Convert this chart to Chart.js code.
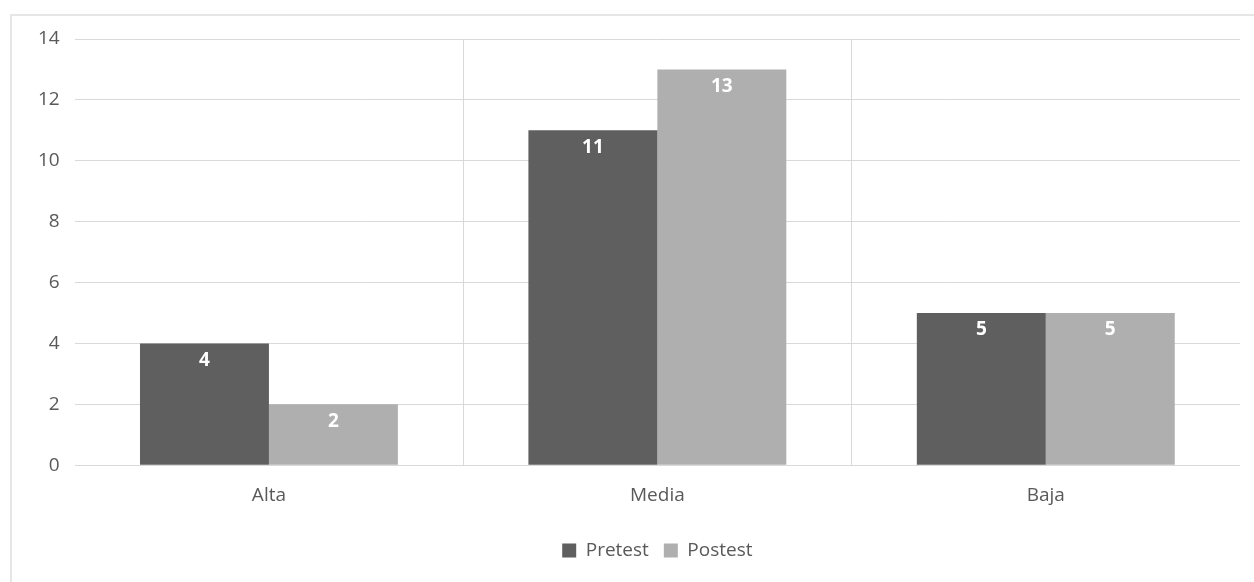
<!DOCTYPE html>
<html>
<head>
<meta charset="utf-8">
<script src="https://cdn.jsdelivr.net/npm/chart.js@4/dist/chart.umd.min.js"></script>
<style>
  body { margin: 0; background: #fff; }
  #frame { position: absolute; left: 10px; top: 14px; right: 0; bottom: 0;
           border-top: 2px solid #e6e6e6; border-left: 2px solid #e6e6e6; }
  #wrap { position: absolute; left: 0; top: 0; width: 1254px; height: 582px; }
</style>
</head>
<body>
<div id="frame"></div>
<div id="wrap"><canvas id="myChart"></canvas></div>
<script>
"use strict";

// data
const categories = ["Alta", "Media", "Baja"];
const pretest    = [4, 11, 5];
const postest    = [2, 13, 5];
const yTicks     = [0, 2, 4, 6, 8, 10, 12, 14];

const textColor = "#595959";
const gridColor = "#d9d9d9";
const family    = "'Open Sans', sans-serif";

// white value labels drawn just inside the top of each bar
const barValues = {
    id: "barValues",
    afterDatasetsDraw(chart) {
        const ctx = chart.ctx;
        ctx.save();
        ctx.fillStyle = "#ffffff";
        ctx.font = "bold 19px " + family;
        ctx.textAlign = "center";
        ctx.textBaseline = "middle";
        chart.data.datasets.forEach(function (ds, i) {
            chart.getDatasetMeta(i).data.forEach(function (bar, j) {
                ctx.fillText(ds.data[j], bar.x, bar.y + 17);
            });
        });
        ctx.restore();
    }
};

const ctx = document.getElementById("myChart").getContext("2d");

new Chart(ctx, {
    type: "bar",
    data: {
        labels: categories,
        datasets: [
            { label: "Pretest", data: pretest, backgroundColor: "#5f5f5f" },
            { label: "Postest", data: postest, backgroundColor: "#afafaf" }
        ]
    },
    options: {
        responsive: true,
        maintainAspectRatio: false,
        animation: false,
        layout: { padding: { left: 23, right: 14, top: 39, bottom: 12 } },
        datasets: {
            bar: { categoryPercentage: 0.664, barPercentage: 1 }
        },
        plugins: {
            legend: {
                position: "bottom",
                fullSize: false,
                labels: {
                    color: textColor,
                    font: { family: family, size: 19 },
                    boxWidth: 14,
                    boxHeight: 14,
                    padding: 15
                }
            },
            tooltip: { enabled: false }
        },
        scales: {
            x: {
                border: { display: false },
                grid: {
                    drawTicks: false,
                    color: function (c) { return c.index > 0 ? gridColor : "transparent"; }
                },
                ticks: { color: textColor, font: { family: family, size: 19 }, padding: 19 }
            },
            y: {
                min: 0,
                max: 14,
                border: { display: false },
                grid: { drawTicks: false, color: gridColor },
                afterBuildTicks: function (axis) {
                    axis.ticks = yTicks.map(function (v) { return { value: v }; });
                },
                ticks: { color: textColor, font: { family: family, size: 19 }, padding: 15 }
            }
        }
    },
    plugins: [barValues]
});
</script>
</body>
</html>
